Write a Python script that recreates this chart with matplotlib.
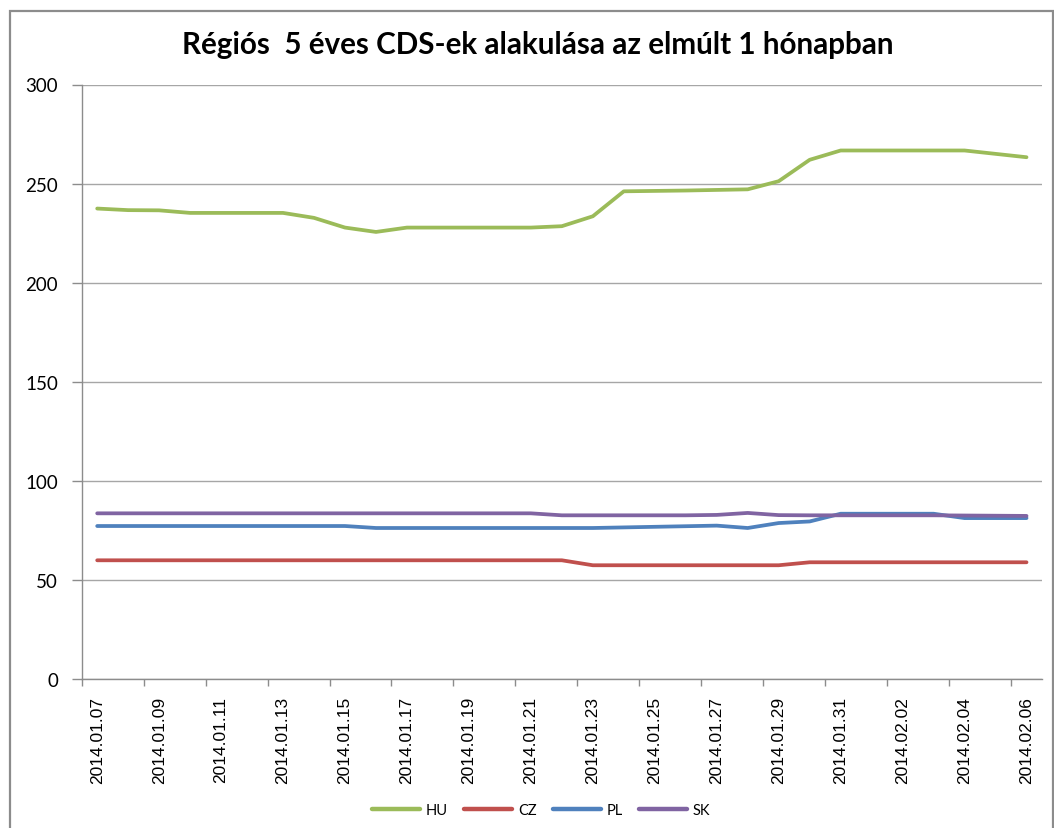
import matplotlib
matplotlib.use("Agg")
import matplotlib.pyplot as plt
from matplotlib.patches import Rectangle

dates = ["2014.01.07", "2014.01.08", "2014.01.09", "2014.01.10", "2014.01.11", "2014.01.12",
         "2014.01.13", "2014.01.14", "2014.01.15", "2014.01.16", "2014.01.17", "2014.01.18",
         "2014.01.19", "2014.01.20", "2014.01.21", "2014.01.22", "2014.01.23", "2014.01.24",
         "2014.01.25", "2014.01.26", "2014.01.27", "2014.01.28", "2014.01.29", "2014.01.30",
         "2014.01.31", "2014.02.01", "2014.02.02", "2014.02.03", "2014.02.04", "2014.02.05",
         "2014.02.06"]

HU = [237.4, 236.6, 236.5, 235.2, 235.2, 235.2, 235.2, 232.7, 227.8, 225.6, 227.8, 227.8,
      227.8, 227.8, 227.8, 228.5, 233.5, 246.1, 246.3, 246.5, 246.8, 247.1, 251.2, 262.0,
      266.7, 266.7, 266.7, 266.7, 266.7, 265.0, 263.3]
CZ = [59.9, 59.9, 59.9, 59.9, 59.9, 59.9, 59.9, 59.9, 59.9, 59.9, 59.9, 59.9,
      59.9, 59.9, 59.9, 59.9, 57.4, 57.4, 57.4, 57.4, 57.4, 57.4, 57.4, 58.9,
      58.9, 58.9, 58.9, 58.9, 58.9, 58.9, 58.9]
PL = [77.2, 77.2, 77.2, 77.2, 77.2, 77.2, 77.2, 77.2, 77.2, 76.2, 76.2, 76.2,
      76.2, 76.2, 76.2, 76.2, 76.2, 76.5, 76.8, 77.1, 77.4, 76.2, 78.7, 79.5,
      83.4, 83.4, 83.4, 83.4, 81.2, 81.2, 81.2]
SK = [83.6, 83.6, 83.6, 83.6, 83.6, 83.6, 83.6, 83.6, 83.6, 83.6, 83.6, 83.6,
      83.6, 83.6, 83.6, 82.6, 82.6, 82.6, 82.6, 82.6, 82.8, 83.8, 82.7, 82.6,
      82.6, 82.6, 82.6, 82.6, 82.5, 82.4, 82.3]

series = [("HU", HU, "#9BBB59"), ("CZ", CZ, "#C0504D"),
          ("PL", PL, "#4F81BD"), ("SK", SK, "#8064A2")]

W, H = 1054, 829
fig = plt.figure(figsize=(W / 100, H / 100), dpi=100)
fig.patch.set_facecolor("white")

# outer chart frame
fig.patches.append(Rectangle((10 / W, -0.05), (1053 - 10) / W, 1.05 - 12 / H,
                             transform=fig.transFigure, fill=False,
                             edgecolor="#8C8C8C", linewidth=1.6))

left, right, top, bottom = 81.7, 1042, 85.5, 680
ax = fig.add_axes([left / W, 1 - bottom / H, (right - left) / W, (bottom - top) / H])

x = list(range(len(dates)))
for name, vals, col in series:
    ax.plot(x, vals, color=col, linewidth=2.7, label=name, solid_capstyle="round",
            solid_joinstyle="round")

ax.set_xlim(-0.5, len(dates) - 0.5)
ax.set_ylim(0, 300)
ax.set_yticks([0, 50, 100, 150, 200, 250, 300])
ax.yaxis.grid(True, color="#A6A6A6", linewidth=1.0)
ax.set_axisbelow(True)

for s in ["top", "right"]:
    ax.spines[s].set_visible(False)
ax.spines["left"].set_color("#8C8C8C")
ax.spines["bottom"].set_color("#8C8C8C")
ax.spines["left"].set_linewidth(1.0)
ax.spines["bottom"].set_linewidth(1.0)

# major ticks: tick marks at category boundaries, no labels
ax.set_xticks([i - 0.5 for i in range(0, len(dates), 2)])
ax.set_xticklabels([])
ax.tick_params(axis="x", which="major", length=5, color="#8C8C8C", width=1.0)
# minor ticks: labels at every other category
ax.set_xticks(x[::2], minor=True)
ax.set_xticklabels(dates[::2], minor=True, rotation=90, fontsize=12.5,
                   family="Liberation Sans", color="#000000")
ax.tick_params(axis="x", which="minor", length=0, pad=12)

ax.tick_params(axis="y", length=7, color="#8C8C8C", width=1.0, pad=10)
for lab in ax.get_yticklabels():
    lab.set_family("Lato")
    lab.set_fontsize(13.5)

fig.text(538 / W, 1 - 45 / H, "Régiós  5 éves CDS-ek alakulása az elmúlt 1 hónapban",
         ha="center", va="center", fontsize=21.3, fontweight="bold", family="Lato")

leg = fig.legend(loc="center", bbox_to_anchor=(541 / W, 1 - 811 / H), ncol=4,
                 frameon=False, prop={"family": "Lato", "size": 10.5},
                 handlelength=3.3, handletextpad=0.4, columnspacing=1.1)
for line in leg.get_lines():
    line.set_linewidth(3.2)

fig.savefig("out.png", dpi=100)
